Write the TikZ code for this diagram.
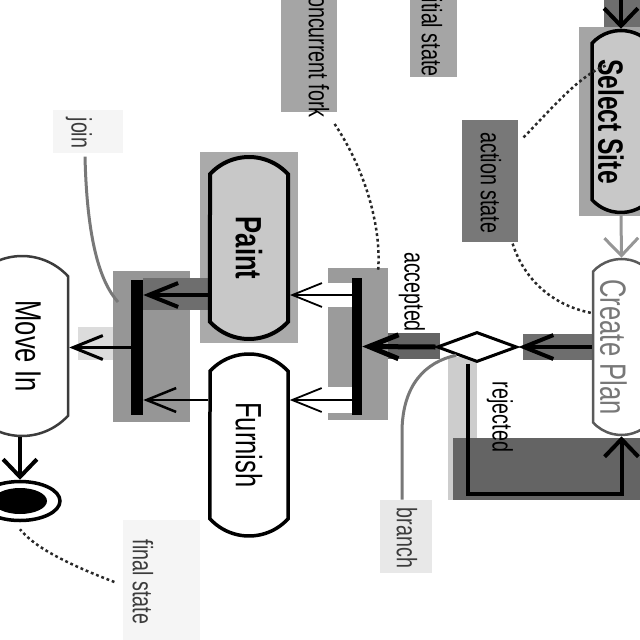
\documentclass[tikz,border=0pt]{standalone}
\usepackage{fontspec}
\setmainfont[FakeStretch=0.7]{Liberation Sans}
\usetikzlibrary{shapes.misc,shapes.geometric,arrows.meta,calc}
\newdimen\pxu \pxu=0.025cm
\definecolor{g40}{RGB}{40,40,40}
\definecolor{g60}{RGB}{60,60,60}
\definecolor{g90}{RGB}{90,90,90}
\definecolor{g100}{RGB}{100,100,100}
\definecolor{g110}{RGB}{110,110,110}
\definecolor{g120}{RGB}{120,120,120}
\definecolor{g150}{RGB}{150,150,150}
\definecolor{g155}{RGB}{155,155,155}
\definecolor{g165}{RGB}{165,165,165}
\definecolor{g170}{RGB}{170,170,170}
\definecolor{g200}{RGB}{200,200,200}
\definecolor{g205}{RGB}{205,205,205}
\definecolor{g220}{RGB}{220,220,220}
\definecolor{g232}{RGB}{232,232,232}
\definecolor{g245}{RGB}{245,245,245}
\tikzset{
  stadium/.style={shape=rounded rectangle, rounded rectangle arc length=95, rotate=-90,
    minimum width=182\pxu, minimum height=78\pxu, inner sep=0pt, draw=black,
    font=\fontsize{26}{28}\selectfont},
  lab/.style={rotate=-90, inner sep=0pt, font=\fontsize{20}{22}\selectfont},
  hflow/.style={line width=4\pxu, -{Straight Barb[length=21pt,width=17pt]}},
  hthin/.style={line width=1.8\pxu, -{Straight Barb[length=21pt,width=17pt]}},
  vflow/.style={line width=4\pxu, -{Straight Barb[length=12.5pt,width=24pt]}},
  leaderdot/.style={line width=2.5\pxu, draw=g40, dash pattern=on 2pt off 2pt},
  leadergray/.style={line width=3\pxu, draw=g120},
}
\begin{document}
\begin{tikzpicture}[x=0.025cm,y=0.025cm]
\useasboundingbox (0,0) rectangle (640,-640);
\clip (0,0) rectangle (640,-640);
% highlight backgrounds
\fill[g110] (604,0) rectangle (640,-28);
\fill[g165] (579,-27) rectangle (640,-216);
\fill[g110] (523,-334) rectangle (593,-360);
\fill[g100] (362,-333) rectangle (440,-359);
\fill[g155] (328,-268) rectangle (388,-420);
\fill[white] (328,-283) rectangle (352,-307);
\fill[white] (328,-387) rectangle (352,-413);
\fill[g170] (200,-152) rectangle (298,-343);
\fill[g150] (113,-271) rectangle (190,-422);
\fill[g110] (143,-278) rectangle (213,-310);
\fill[g220] (78,-327) rectangle (113,-360);
\fill[g120] (462,-120) rectangle (518,-242);
\fill[g165] (410,0) rectangle (457,-77);
\fill[g165] (281,0) rectangle (337,-112);
\fill[g205] (448,-357) rectangle (477,-500);
\fill[g100] (453,-438) rectangle (640,-500);
\fill[g232] (380,-500) rectangle (432,-573);
\fill[g245] (53,-110) rectangle (123,-153);
\fill[g245] (123,-520) rectangle (200,-640);
% nodes
\node[stadium, fill=g200, line width=3.5\pxu, minimum height=58\pxu, font=\fontsize{25}{28}\selectfont\bfseries]
  (sel) at (621,-121.5) {\raisebox{-10\pxu}[\height][\depth]{Select Site}};
\node[stadium, fill=white, draw=g90, line width=2.5\pxu, text=g120, minimum width=176\pxu, minimum height=57\pxu]
  (cp) at (621.5,-347) {\raisebox{-8\pxu}[\height][\depth]{Create Plan}};
\node[stadium, fill=g200, line width=4\pxu, font=\fontsize{26}{28}\selectfont\bfseries]
  (paint) at (249,-248) {Paint};
\node[stadium, fill=white, line width=3.5\pxu] (furnish) at (249,-445) {Furnish};
\node[stadium, fill=white, draw=g60, line width=2.5\pxu, minimum width=180\pxu, minimum height=92\pxu]
  (move) at (22,-346) {\raisebox{6\pxu}[\height][\depth]{Move In}};
\node[diamond, draw=black, fill=white, line width=3\pxu, aspect=2.67, minimum width=80\pxu, minimum height=30\pxu, inner sep=0pt]
  (dia) at (477,-347) {};
\node[fill=black, inner sep=0pt, minimum width=10\pxu, minimum height=137\pxu] (fork) at (357,-346.5) {};
\node[fill=black, inner sep=0pt, minimum width=12\pxu, minimum height=135\pxu] (join) at (137,-347.5) {};
\node[ellipse, draw=black, fill=white, line width=3.5\pxu, minimum width=80\pxu, minimum height=39\pxu, inner sep=0pt]
  (fin) at (20,-501) {};
\fill (fin.center) ellipse [x radius=27, y radius=13];
% labels
\node[lab] (linit) at (432,-30) {initial state};
\node[lab] (lfork) at (319,-52) {concurrent fork};
\node[lab] (lact) at (491,-183) {action state};
\node[lab] (lacc) at (412,-292) {accepted};
\node[lab] (lrej) at (500,-417) {rejected};
\node[lab, text=g60] (lbr) at (407,-538) {branch};
\node[lab, text=g60] (ljoin) at (79,-133) {join};
\node[lab, text=g60] (lfin) at (143,-582) {final state};
% flows
\coordinate (topin) at (621,10);
\draw[vflow] (topin) -- (sel.west);
\draw[vflow, draw=g150, line width=3\pxu] (sel.east) -- (cp.west);
\draw[hflow] (cp.south) -- (dia.east);
\draw[hflow, line width=5\pxu] (dia.west) -- (fork.east);
\draw[hthin] (fork.west |- 0,-295) -- (paint.north |- 0,-295);
\draw[hthin] (fork.west |- 0,-400) -- (furnish.north |- 0,-400);
\draw[hflow] (paint.south |- 0,-295) -- (join.east |- 0,-295);
\draw[hflow, line width=2.5\pxu] (furnish.south |- 0,-400) -- (join.east |- 0,-400);
\draw[hflow, line width=3\pxu] (join.west) -- (join.west -| move.north);
\draw[vflow] (move.east -| fin.north) -- (fin.north);
\draw[vflow] ([xshift=-9\pxu]dia.south) -- ++(0,-130) -| (cp.east);
% leaders
\coordinate (selpt) at (607,-65);
\coordinate (forkpt) at (378,-272);
\coordinate (joinpt) at (118,-302);
\draw[leaderdot] ([xshift=5\pxu,yshift=-6\pxu]lfork.north east) .. controls (364,-168) and (382,-225) .. (forkpt);
\draw[leaderdot] ([xshift=22\pxu,yshift=-5\pxu]lact.north west) .. controls (555,-105) and (580,-75) .. (selpt);
\draw[leaderdot] ([xshift=11\pxu,yshift=-10\pxu]lact.north east) .. controls (525,-282) and (555,-306) .. (cp.south |- 0,-313);
\draw[leadergray] ([xshift=6\pxu,yshift=-8\pxu]ljoin.east) .. controls (87,-240) and (100,-282) .. (joinpt);
\draw[leaderdot] ([xshift=-18\pxu]lfin.south) .. controls (70,-565) and (35,-548) .. ([yshift=-7\pxu]fin.south);
\draw[leadergray] ([xshift=-5\pxu,yshift=8\pxu]lbr.west) -- (402,-430) .. controls (403,-385) and (425,-362) .. (dia.south west);
\end{tikzpicture}
\end{document}
